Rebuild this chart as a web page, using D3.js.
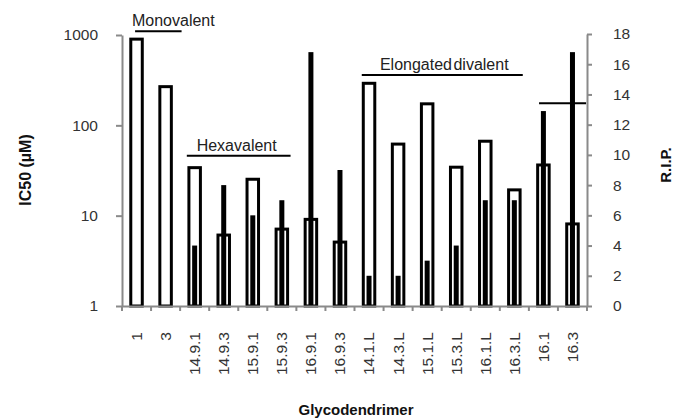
<!DOCTYPE html>
<html>
<head>
<meta charset="utf-8">
<script src="https://cdn.jsdelivr.net/npm/d3@7"></script>
<style>
  body { margin: 0; background: #fff; }
  svg { display: block; font-family: "Liberation Sans", Arial, sans-serif; }
  .axis path, .axis line { stroke: #8a8a8a; stroke-width: 2; }
  .axis text { fill: #333; font-size: 15.5px; }
  .title { font-size: 15px; font-weight: bold; fill: #111; }
  .group-label { font-size: 16px; fill: #222; }
</style>
</head>
<body>
<div id="chart"></div>
<script>
// data
var categories = ['1', '3', '14.9.1', '14.9.3', '15.9.1', '15.9.3', '16.9.1', '16.9.3',
  '14.1.L', '14.3.L', '15.1.L', '15.3.L', '16.1.L', '16.3.L', '16.1', '16.3'];
var ic50 = [900, 268, 34, 6.1, 25.3, 7.1, 9.1, 5.1, 292, 62, 173, 34.4, 66.7, 19.3, 36.4, 8.1];
var rip = [0, 0, 4, 8, 6, 7, 16.8, 9, 2, 2, 3, 4, 7, 7, 12.9, 16.8];
var ic50Ticks = [1, 10, 100, 1000];
var ripTicks = [0, 2, 4, 6, 8, 10, 12, 14, 16, 18];
var groups = [
  {label: 'Monovalent', level: 1100},
  {label: 'Hexavalent', level: 46},
  {label: 'Elongated divalent', level: 360},
  {label: '', level: 176}
];

// where each group's line sits (band units from the left axis), and label nudge
var groupSpans = {
  'Monovalent': [0.45, 2.05, 15],
  'Hexavalent': [2.23, 5.8, -2],
  'Elongated divalent': [8.25, 13.79, 2],
  '': [14.35, 15.97, 0]
};

var width = 674, height = 419;
var plot = {left: 122, right: 587, top: 35, bottom: 306};

var svg = d3.select('#chart').append('svg')
  .attr('width', width)
  .attr('height', height);

var x = d3.scaleBand()
  .domain(categories)
  .range([plot.left, plot.right])
  .padding(0);

var yLeft = d3.scaleLog()
  .domain([1, 1000])
  .range([plot.bottom, plot.top]);

var yRight = d3.scaleLinear()
  .domain([0, 18])
  .range([plot.bottom, plot.top - 1]);

var bw = x.bandwidth();
var icWidth = 11.5;
var ripWidth = 5;

// IC50 bars, white with a heavy outline
svg.append('g').selectAll('rect')
  .data(categories)
  .enter().append('rect')
  .attr('x', function(d) { return x(d) + bw / 2 - icWidth / 2; })
  .attr('y', function(d, i) { return yLeft(ic50[i]); })
  .attr('width', icWidth)
  .attr('height', function(d, i) { return plot.bottom - yLeft(ic50[i]); })
  .attr('fill', '#fff')
  .attr('stroke', '#000')
  .attr('stroke-width', 3);

// R.I.P. bars, thin and solid
svg.append('g').selectAll('rect')
  .data(categories.filter(function(d, i) { return rip[i] > 0; }))
  .enter().append('rect')
  .attr('x', function(d) { return x(d) + bw / 2 - ripWidth / 2; })
  .attr('y', function(d) { return yRight(rip[categories.indexOf(d)]); })
  .attr('width', ripWidth)
  .attr('height', function(d) { return plot.bottom - yRight(rip[categories.indexOf(d)]); })
  .attr('fill', '#000');

// group lines and labels
groups.forEach(function(g) {
  var span = groupSpans[g.label];
  var x1 = plot.left + span[0] * bw;
  var x2 = plot.left + span[1] * bw;
  var ly = yLeft(g.level);
  svg.append('line')
    .attr('x1', x1).attr('x2', x2)
    .attr('y1', ly).attr('y2', ly)
    .attr('stroke', '#000')
    .attr('stroke-width', 2);
  if (g.label) {
    svg.append('text')
      .attr('class', 'group-label')
      .attr('x', (x1 + x2) / 2 + span[2])
      .attr('y', ly - 5)
      .attr('text-anchor', 'middle')
      .style('word-spacing', '-3px')
      .text(g.label);
  }
});

// left axis
svg.append('g')
  .attr('class', 'axis')
  .attr('transform', 'translate(' + plot.left + ',0)')
  .call(d3.axisLeft(yLeft)
    .tickValues(ic50Ticks)
    .tickFormat(d3.format('d'))
    .tickSizeInner(6)
    .tickSizeOuter(0)
    .tickPadding(18));

// right axis
svg.append('g')
  .attr('class', 'axis')
  .attr('transform', 'translate(' + plot.right + ',0)')
  .call(d3.axisRight(yRight)
    .tickValues(ripTicks)
    .tickSizeInner(5)
    .tickSizeOuter(0)
    .tickPadding(21));

// bottom axis: labels at band centres, ticks on band edges
var bottomAxis = svg.append('g')
  .attr('class', 'axis')
  .attr('transform', 'translate(0,' + plot.bottom + ')')
  .call(d3.axisBottom(x).tickSize(0).tickSizeOuter(0));

bottomAxis.selectAll('.tick text')
  .attr('transform', 'translate(0,26) rotate(-90)')
  .attr('text-anchor', 'end')
  .attr('x', 0)
  .attr('y', 0)
  .attr('dy', '0.35em');

var edges = categories.map(function(d) { return x(d); }).concat([plot.right]);
bottomAxis.selectAll('.edge')
  .data(edges)
  .enter().append('line')
  .attr('class', 'edge')
  .attr('x1', function(d) { return d; })
  .attr('x2', function(d) { return d; })
  .attr('y1', 0)
  .attr('y2', 5);

// titles
svg.append('text')
  .attr('class', 'title')
  .attr('transform', 'translate(31,170) rotate(-90)')
  .attr('text-anchor', 'middle')
  .style('font-size', '16px')
  .text('IC50 (\u00b5M)');

svg.append('text')
  .attr('class', 'title')
  .attr('transform', 'translate(671,165) rotate(-90)')
  .attr('text-anchor', 'middle')
  .text('R.I.P.');

svg.append('text')
  .attr('class', 'title')
  .attr('x', 356)
  .attr('y', 415)
  .attr('text-anchor', 'middle')
  .text('Glycodendrimer');
</script>
</body>
</html>
